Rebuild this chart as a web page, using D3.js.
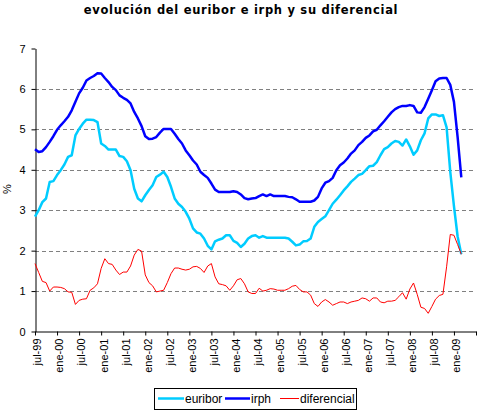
<!DOCTYPE html>
<html>
<head>
<meta charset="utf-8">
<script src="https://cdn.jsdelivr.net/npm/d3@7"></script>
<style>
  body { margin: 0; background: #fff; }
  svg { display: block; }
</style>
</head>
<body>
<svg id="chart" width="480" height="414"></svg>
<script>
// monthly values, jul-99 .. mar-09
const euribor = [
  2.84, 3.0, 3.2, 3.29, 3.7, 3.72, 3.87, 3.99, 4.13, 4.32,
  4.36, 4.85, 5.01, 5.14, 5.24, 5.24, 5.23, 5.18, 4.65, 4.59,
  4.5, 4.5, 4.5, 4.34, 4.32, 4.21, 3.99, 3.53, 3.29, 3.22,
  3.37, 3.5, 3.62, 3.82, 3.88, 3.95, 3.82, 3.58, 3.29, 3.16,
  3.08, 2.96, 2.79, 2.55, 2.45, 2.42, 2.3, 2.12, 2.03, 2.23,
  2.27, 2.3, 2.38, 2.38, 2.24, 2.19, 2.09, 2.17, 2.3, 2.36,
  2.38, 2.32, 2.36, 2.32, 2.32, 2.32, 2.32, 2.32, 2.32, 2.3,
  2.22, 2.13, 2.15, 2.23, 2.24, 2.3, 2.59, 2.71, 2.78, 2.85,
  3.0, 3.16, 3.26, 3.37, 3.49, 3.59, 3.7, 3.78, 3.87, 3.9,
  3.99, 4.09, 4.1, 4.19, 4.36, 4.51, 4.56, 4.65, 4.71, 4.69,
  4.6, 4.75, 4.58, 4.37, 4.48, 4.73, 4.9, 5.27, 5.37, 5.37,
  5.33, 5.35, 5.05, 3.95, 3.1, 2.35, 1.91
];

const irph = [
  4.51, 4.44, 4.46, 4.56, 4.69, 4.83, 4.99, 5.1, 5.2, 5.31,
  5.47, 5.68, 5.89, 6.03, 6.21, 6.27, 6.32, 6.39, 6.38, 6.27,
  6.17, 6.05, 5.97, 5.84, 5.78, 5.73, 5.64, 5.43, 5.27, 5.08,
  4.83, 4.76, 4.77, 4.81, 4.92, 5.01, 5.01, 5.01, 4.89, 4.76,
  4.65, 4.48, 4.36, 4.23, 4.13, 3.95, 3.87, 3.8, 3.66, 3.51,
  3.45, 3.45, 3.45, 3.45, 3.47, 3.45, 3.39, 3.3, 3.27, 3.29,
  3.3, 3.35, 3.39, 3.35, 3.39, 3.35, 3.35, 3.35, 3.35, 3.33,
  3.32, 3.27, 3.21, 3.21, 3.21, 3.21, 3.24, 3.33, 3.54, 3.68,
  3.72, 3.8, 3.99, 4.11, 4.18, 4.28, 4.4, 4.48, 4.61, 4.69,
  4.79, 4.85, 4.95, 4.99, 5.1, 5.2, 5.31, 5.42, 5.5, 5.55,
  5.58, 5.58, 5.6, 5.58, 5.42, 5.41, 5.55, 5.76, 5.97, 6.19,
  6.26, 6.27, 6.27, 6.1, 5.68, 4.81, 3.81
];

const diferencial = [
  1.68, 1.46, 1.24, 1.21, 1.0, 1.1, 1.1, 1.09, 1.06, 0.98,
  0.97, 0.67, 0.77, 0.8, 0.81, 1.02, 1.08, 1.18, 1.56, 1.8,
  1.68, 1.66, 1.52, 1.41, 1.47, 1.47, 1.62, 1.89, 2.03, 1.99,
  1.4, 1.21, 1.13, 0.98, 1.0, 1.02, 1.21, 1.43, 1.57, 1.57,
  1.54, 1.52, 1.54, 1.6, 1.61, 1.56, 1.46, 1.62, 1.68, 1.35,
  1.18, 1.16, 1.13, 1.02, 1.13, 1.28, 1.31, 1.18, 0.98, 0.94,
  0.94, 1.07, 1.0, 1.02, 1.06, 1.05, 1.02, 1.02, 1.02, 1.06,
  1.12, 1.14, 1.04, 0.98, 0.98, 0.9, 0.69, 0.62, 0.73, 0.79,
  0.73, 0.65, 0.69, 0.73, 0.73, 0.69, 0.73, 0.75, 0.77, 0.83,
  0.81, 0.75, 0.83, 0.83, 0.73, 0.71, 0.75, 0.75, 0.77, 0.86,
  0.96, 0.8, 1.05, 1.2, 0.92, 0.6, 0.57, 0.45, 0.62, 0.8,
  0.89, 0.92, 1.6, 2.4, 2.38, 2.15, 1.91
];

const xLabels = [
  'jul-99', 'ene-00', 'jul-00', 'ene-01', 'jul-01', 'ene-02', 'jul-02',
  'ene-03', 'jul-03', 'ene-04', 'jul-04', 'ene-05', 'jul-05', 'ene-06',
  'jul-06', 'ene-07', 'jul-07', 'ene-08', 'jul-08', 'ene-09'
];

const seriesNames = ['euribor', 'irph', 'diferencial'];
const seriesColors = ['#00ccff', '#0000ff', '#ff0000'];
const seriesWidths = [2.5, 2.5, 1];

const svg = d3.select('#chart');
const font = '"Liberation Sans", Arial, sans-serif';

const xScale = d3.scaleLinear()
  .domain([0, 120])
  .range([35, 476]);

const yScale = d3.scaleLinear()
  .domain([0, 7])
  .range([331.5, 48.5]);

// title
svg.append('text')
  .attr('x', 241)
  .attr('y', 14)
  .attr('text-anchor', 'middle')
  .style('font-family', '"DejaVu Sans", Verdana, sans-serif')
  .style('font-weight', 'bold')
  .style('font-size', '11.5px')
  .style('letter-spacing', '0.7px')
  .text('evolución del euribor e irph y su diferencial');

// dashed gridlines
svg.append('g')
  .selectAll('line')
  .data(d3.range(1, 7))
  .join('line')
  .attr('x1', xScale(0))
  .attr('x2', xScale(120))
  .attr('y1', d => Math.round(yScale(d)) + 0.5)
  .attr('y2', d => Math.round(yScale(d)) + 0.5)
  .attr('stroke', '#808080')
  .attr('stroke-dasharray', '4,3');

// y axis
const yAxis = svg.append('g')
  .attr('transform', 'translate(35.5, 0)')
  .call(d3.axisLeft(yScale)
    .tickValues(d3.range(0, 8))
    .tickFormat(d3.format('d'))
    .tickSize(4)
    .tickSizeOuter(0)
    .tickPadding(6));

yAxis.selectAll('text')
  .style('font-family', font)
  .style('font-size', '11px')
  .attr('fill', '#000');

svg.append('text')
  .attr('transform', 'translate(11, 189) rotate(-90)')
  .attr('text-anchor', 'middle')
  .style('font-family', font)
  .style('font-size', '11px')
  .text('%');

// x axis
const xAxis = svg.append('g')
  .attr('transform', 'translate(0, 331.5)')
  .call(d3.axisBottom(xScale)
    .tickValues(d3.range(0, 121, 6))
    .tickFormat((d, i) => xLabels[i] || '')
    .tickSize(4)
    .tickSizeOuter(0));

xAxis.selectAll('text')
  .attr('transform', 'rotate(-90)')
  .attr('text-anchor', 'end')
  .attr('x', -7)
  .attr('y', 2)
  .attr('dy', '0.35em')
  .style('font-family', font)
  .style('font-size', '11px')
  .attr('fill', '#000');

svg.selectAll('.domain').attr('stroke', '#000');
svg.selectAll('.tick line').attr('stroke', '#000');

// lines
const seriesData = [euribor, irph, diferencial];

const line = d3.line()
  .x((d, i) => xScale(i))
  .y(d => yScale(d));

svg.append('g')
  .selectAll('path')
  .data(seriesData)
  .join('path')
  .attr('d', d => line(d))
  .attr('fill', 'none')
  .attr('stroke', (d, i) => seriesColors[i])
  .attr('stroke-width', (d, i) => seriesWidths[i])
  .attr('stroke-linejoin', 'round');

// legend
const legend = svg.append('g');

legend.append('rect')
  .attr('x', 154.5)
  .attr('y', 388.5)
  .attr('width', 202)
  .attr('height', 21)
  .attr('fill', '#fff')
  .attr('stroke', '#000');

const legendX = [158, 225, 280];
const legendLen = [26, 25, 19];

const items = legend.selectAll('g.item')
  .data(seriesNames)
  .join('g')
  .attr('class', 'item');

items.append('line')
  .attr('x1', (d, i) => legendX[i])
  .attr('x2', (d, i) => legendX[i] + legendLen[i])
  .attr('y1', 398.5)
  .attr('y2', 398.5)
  .attr('stroke', (d, i) => seriesColors[i])
  .attr('stroke-width', (d, i) => seriesWidths[i]);

items.append('text')
  .attr('x', (d, i) => legendX[i] + legendLen[i] + 1)
  .attr('y', 403)
  .style('font-family', font)
  .style('font-size', '12px')
  .text(d => d);
</script>
</body>
</html>
